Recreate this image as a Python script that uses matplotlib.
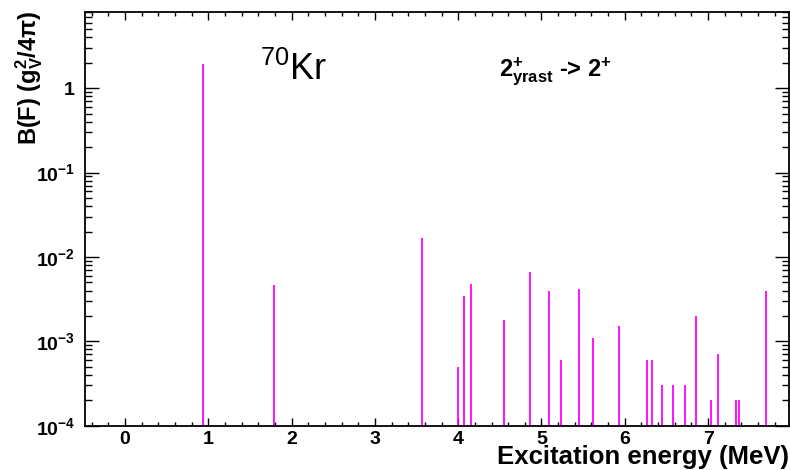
import numpy as np
import matplotlib
matplotlib.use("Agg")
import matplotlib.pyplot as plt
from matplotlib.ticker import FixedLocator, FuncFormatter, LogLocator, NullFormatter

plt.rcParams['font.family'] = ['Liberation Sans', 'DejaVu Sans']
plt.rcParams['mathtext.fontset'] = 'custom'
plt.rcParams['mathtext.rm'] = 'Liberation Sans'
plt.rcParams['mathtext.it'] = 'Liberation Sans:italic'
plt.rcParams['mathtext.bf'] = 'Liberation Sans:bold'

# excitation energies (MeV) and strengths B(F)
energy = [0.94, 1.79, 3.56, 4.00, 4.07, 4.15, 4.55, 4.86, 5.09, 5.23, 5.45,
          5.62, 5.93, 6.27, 6.33, 6.45, 6.58, 6.72, 6.86, 7.03, 7.12, 7.34,
          7.37, 7.70]
bf = [1.96, 4.7e-3, 1.66e-2, 5.0e-4, 3.4e-3, 4.8e-3, 1.8e-3, 6.6e-3, 3.9e-3,
      6.0e-4, 4.2e-3, 1.1e-3, 1.5e-3, 6.0e-4, 6.0e-4, 3.0e-4, 3.0e-4, 3.0e-4,
      2.0e-3, 2.0e-4, 7.0e-4, 2.0e-4, 2.0e-4, 4.0e-3]

x_ticks = [0, 1, 2, 3, 4, 5, 6, 7]
y_min, y_max = 1e-4, 8.0


def y_fmt(v, pos):
    e = int(round(np.log10(v)))
    if e == 0:
        return r'$\mathbf{1}$'
    return r'$\mathbf{10^{%d}}$' % e


fig = plt.figure(figsize=(7.9, 4.7), dpi=100)
ax = fig.add_axes([0.1076, 0.0943, 0.891, 0.880])

ax.vlines(energy, y_min, bf, color='#ff00ff', lw=1.3)

ax.set_yscale('log')
ax.set_xlim(-0.48, 7.97)
ax.set_ylim(y_min, y_max)

ax.xaxis.set_major_locator(FixedLocator(x_ticks))
ax.xaxis.set_minor_locator(FixedLocator(np.arange(-0.4, 8.0, 0.2)))
ax.yaxis.set_major_locator(LogLocator(base=10, numticks=10))
ax.yaxis.set_minor_locator(LogLocator(base=10, subs=np.arange(2, 10), numticks=20))
ax.yaxis.set_major_formatter(FuncFormatter(y_fmt))
ax.yaxis.set_minor_formatter(NullFormatter())

ax.tick_params(axis='both', which='both', direction='in', top=True, right=True,
               width=1.0, labelsize=14)
ax.tick_params(axis='x', which='major', length=6, pad=4)
ax.tick_params(axis='x', which='minor', length=3)
ax.tick_params(axis='y', which='major', length=10, pad=7)
ax.tick_params(axis='y', which='minor', length=5)
for lab in ax.get_xticklabels():
    lab.set_fontweight('bold')
for s in ax.spines.values():
    s.set_linewidth(1.3)

ax.set_xlabel('Excitation energy (MeV)', fontsize=18.5, fontweight='bold',
              loc='right')
ax.xaxis.label.set_va('baseline')
ax.xaxis.set_label_coords(1.0, -0.0925)
ax.set_ylabel(r'B(F) $\mathbf{(g_V^2/4\pi)}$', fontsize=17, fontweight='bold',
              loc='top')
ax.yaxis.set_label_coords(-0.057, 1.005)

fig.text(0.329, 0.83, r'$^{70}$Kr', fontsize=26, ha='left', va='baseline')
fig.text(0.632, 0.838, r'$\mathbf{2^{+}_{yrast}}$ -> $\mathbf{2^{+}}$',
         fontsize=17, fontweight='bold', ha='left', va='baseline')

fig.savefig('out.png', dpi=100)
